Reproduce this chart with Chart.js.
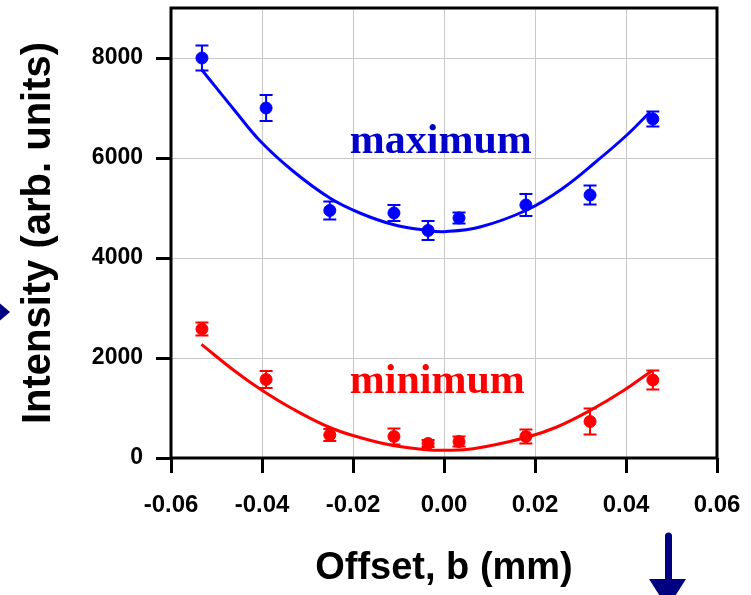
<!DOCTYPE html>
<html>
<head>
<meta charset="utf-8">
<script src="https://cdn.jsdelivr.net/npm/chart.js@4.4.0/dist/chart.umd.min.js"></script>
<style>
  html, body { margin: 0; padding: 0; background: #fff; }
</style>
</head>
<body>
<canvas id="chart" width="751" height="595"></canvas>
<script>
// measured points (offset in mm, intensity in arb. units)
const offsets = [-0.0532, -0.0391, -0.0251, -0.0110, -0.0035, 0.0033, 0.0180, 0.0321, 0.0459];
const maxVals = [8000, 7000, 4950, 4900, 4550, 4800, 5060, 5260, 6780];
const maxErr  = [250, 260, 180, 160, 190, 110, 220, 190, 150];
const minVals = [2580, 1570, 460, 430, 290, 330, 430, 730, 1560];
const minErr  = [130, 170, 120, 160, 70, 100, 140, 260, 190];

// fitted curves
const maxFitX = [-0.0532, -0.046, -0.0404, -0.0332, -0.0251, -0.0185, -0.0112, -0.0037, 0.0, 0.0079, 0.0182, 0.0262, 0.0336, 0.0402, 0.0453];
const maxFitY = [7760, 6950, 6340, 5740, 5200, 4900, 4670, 4550, 4527, 4620, 4960, 5400, 5940, 6460, 6920];
const minFitX = [-0.0533, -0.046, -0.0401, -0.0332, -0.0251, -0.0185, -0.0112, -0.0037, 0.0, 0.0064, 0.018, 0.0248, 0.0321, 0.0393, 0.0457];
const minFitY = [2273, 1740, 1360, 980, 610, 410, 250, 165, 155, 185, 410, 620, 950, 1340, 1747];

// axes
const xTickValues = [-0.06, -0.04, -0.02, 0, 0.02, 0.04, 0.06];
const xTickLabels = ['-0.06', '-0.04', '-0.02', '0.00', '0.02', '0.04', '0.06'];
const yTickValues = [0, 2000, 4000, 6000, 8000];
const yTickLabels = ['0', '2000', '4000', '6000', '8000'];

// in-plot labels (left edge / baseline, data coords)
const maxLabel = { text: 'maximum', x: -0.0207, y: 6100 };
const minLabel = { text: 'minimum', x: -0.0207, y: 1300 };

const toPts = (xs, ys) => xs.map((v, i) => ({ x: v, y: ys[i] }));

const extras = {
    id: 'extras',
    beforeDatasetsDraw(chart) {
        const { ctx, scales: { x, y } } = chart;
        ctx.save();
        ctx.lineWidth = 2;
        [[maxVals, maxErr, '#0000FF'], [minVals, minErr, '#FF0000']].forEach(([vals, errs, col]) => {
            ctx.strokeStyle = col;
            offsets.forEach((xv, i) => {
                const px = x.getPixelForValue(xv);
                const top = y.getPixelForValue(vals[i] + errs[i]);
                const bot = y.getPixelForValue(vals[i] - errs[i]);
                ctx.beginPath();
                ctx.moveTo(px, top); ctx.lineTo(px, bot);
                ctx.moveTo(px - 6.5, top); ctx.lineTo(px + 6.5, top);
                ctx.moveTo(px - 6.5, bot); ctx.lineTo(px + 6.5, bot);
                ctx.stroke();
            });
        });
        ctx.restore();
    },
    afterDraw(chart) {
        const { ctx, chartArea: a, scales: { x, y } } = chart;
        ctx.save();
        // frame
        ctx.strokeStyle = '#000';
        ctx.lineWidth = 3;
        ctx.strokeRect(a.left, a.top, a.right - a.left, a.bottom - a.top);

        // labels
        ctx.font = 'bold 42px "Liberation Serif"';
        ctx.textBaseline = 'alphabetic';
        ctx.fillStyle = '#0000CC';
        ctx.fillText(maxLabel.text, x.getPixelForValue(maxLabel.x), y.getPixelForValue(maxLabel.y));
        ctx.fillStyle = '#FF0000';
        ctx.fillText(minLabel.text, x.getPixelForValue(minLabel.x), y.getPixelForValue(minLabel.y));

        // arrows
        ctx.fillStyle = '#000080';
        ctx.beginPath();
        ctx.moveTo(-4, 300); ctx.lineTo(10, 312); ctx.lineTo(-4, 324);
        ctx.closePath(); ctx.fill();

        ctx.strokeStyle = '#000080';
        ctx.lineWidth = 7;
        ctx.lineCap = 'round';
        ctx.beginPath();
        ctx.moveTo(668.5, 536); ctx.lineTo(668.5, 582);
        ctx.stroke();
        ctx.beginPath();
        ctx.moveTo(649, 579); ctx.lineTo(686, 579); ctx.lineTo(667.5, 608);
        ctx.closePath(); ctx.fill();
        ctx.restore();
    }
};

new Chart(document.getElementById('chart'), {
    type: 'scatter',
    data: {
        datasets: [
            {
                label: 'maximum',
                data: toPts(offsets, maxVals),
                backgroundColor: '#0000FF', borderColor: '#0000FF',
                pointRadius: 6, order: 0
            },
            {
                label: 'minimum',
                data: toPts(offsets, minVals),
                backgroundColor: '#FF0000', borderColor: '#FF0000',
                pointRadius: 6, order: 0
            },
            {
                label: 'maximum fit',
                data: toPts(maxFitX, maxFitY),
                showLine: true, borderColor: '#0000FF', borderWidth: 3,
                pointRadius: 0, tension: 0.4, order: 1
            },
            {
                label: 'minimum fit',
                data: toPts(minFitX, minFitY),
                showLine: true, borderColor: '#FF0000', borderWidth: 3,
                pointRadius: 0, tension: 0.4, order: 1
            }
        ]
    },
    options: {
        responsive: false,
        animation: false,
        layout: { padding: { top: 8, right: 34, left: 0, bottom: 0 } },
        plugins: {
            legend: { display: false },
            tooltip: { enabled: false }
        },
        scales: {
            x: {
                type: 'linear',
                min: -0.06, max: 0.06,
                afterBuildTicks: s => { s.ticks = xTickValues.map(v => ({ value: v })); },
                afterFit: s => { s.height = 137; s.paddingLeft = 0; s.paddingRight = 0; },
                border: { display: false },
                grid: { color: '#C8C8C8', lineWidth: 1, tickLength: 15, tickWidth: 3, tickColor: '#000' },
                ticks: {
                    padding: 18, maxRotation: 0, autoSkip: false, color: '#000',
                    font: { family: 'Liberation Sans', size: 24, weight: 'bold' },
                    callback: (v, i) => xTickLabels[i]
                },
                title: {
                    display: true, text: 'Offset, b (mm)', color: '#000',
                    font: { family: 'Liberation Sans', size: 38, weight: 'bold' },
                    padding: { top: 0, bottom: 4 }
                }
            },
            y: {
                type: 'linear',
                min: 0, max: 9000,
                afterBuildTicks: s => { s.ticks = yTickValues.map(v => ({ value: v })); },
                afterFit: s => { s.width = 171; s.paddingTop = 0; s.paddingBottom = 0; },
                border: { display: false },
                grid: { color: '#C8C8C8', lineWidth: 1, tickLength: 15, tickWidth: 3, tickColor: '#000' },
                ticks: {
                    padding: 13, autoSkip: false, color: '#000',
                    font: { family: 'Liberation Sans', size: 23, weight: 'bold' },
                    callback: (v, i) => yTickLabels[i]
                },
                title: {
                    display: true, text: 'Intensity (arb. units)', color: '#000',
                    font: { family: 'Liberation Sans', size: 40, weight: 'bold' },
                    padding: { top: 15, bottom: 0 }
                }
            }
        }
    },
    plugins: [extras]
});
</script>
</body>
</html>
